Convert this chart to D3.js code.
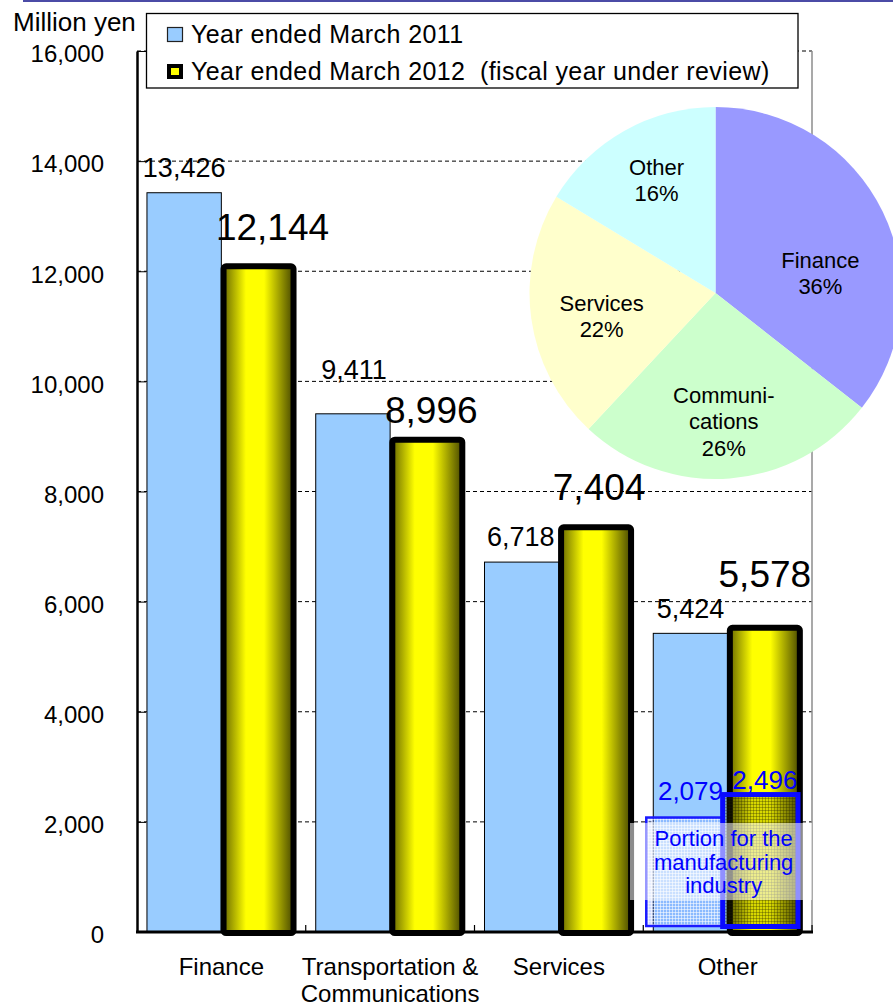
<!DOCTYPE html>
<html><head><meta charset="utf-8">
<script src="https://cdn.jsdelivr.net/npm/d3@7"></script>
<style>
html,body{margin:0;padding:0;background:#fff;}
svg{display:block;font-family:"Liberation Sans",Arial,Helvetica,sans-serif;}
</style></head><body>
<svg id="chart" width="893" height="1006"></svg>
<script>
// ---- data ----
const categories = [["Finance"], ["Transportation &", "Communications"], ["Services"], ["Other"]];
const seriesNames = ["Year ended March 2011", "Year ended March 2012  (fiscal year under review)"];
const values2011 = [13426, 9411, 6718, 5424];
const values2012 = [12144, 8996, 7404, 5578];
const manufacturing = [2079, 2496];          // part of "Other": 2011, 2012
const manufacturingNote = ["Portion for the", "manufacturing", "industry"];
const yTickValues = [0, 2000, 4000, 6000, 8000, 10000, 12000, 14000, 16000];
const pieNames = [["Finance"], ["Communi-", "cations"], ["Services"], ["Other"]];
const yAxisTitle = "Million yen";

// ---- layout ----
const W = 893, H = 1006;
const plot = { left: 137, right: 812, top: 51, bottom: 932 };
const blueFill = "#99ccff";
const pieColors = ["#9999ff", "#ccffcc", "#ffffcc", "#ccffff"];
const label2011Shift = [[0, 0], [1, -19], [-1, 0], [0, 1]];
const label2012Shift = [[14, 0], [4, 9], [3, -1], [0, -15]];
const pieLabelShift = [[-3, 33], [-1, 9], [5, 7], [0, -8]];

const svg = d3.select("#chart");
const defs = svg.append("defs");

const grad = defs.append("linearGradient").attr("id", "goldBar")
  .attr("x1", "0").attr("x2", "1").attr("y1", "0").attr("y2", "0");
[[0, "#6a6a00"], [0.32, "#ffff00"], [0.58, "#ffff00"], [1, "#474700"]].forEach(([o, c]) =>
  grad.append("stop").attr("offset", o).attr("stop-color", c));

const meshLight = defs.append("pattern").attr("id", "meshLight")
  .attr("width", 3).attr("height", 3).attr("patternUnits", "userSpaceOnUse");
meshLight.append("rect").attr("width", 3).attr("height", 3).attr("fill", "#6f96ff").attr("opacity", 0.35);
meshLight.append("rect").attr("width", 3).attr("height", 1).attr("fill", "#fff").attr("opacity", 0.55);
meshLight.append("rect").attr("width", 1).attr("height", 3).attr("fill", "#fff").attr("opacity", 0.55);

const meshDark = defs.append("pattern").attr("id", "meshDark")
  .attr("width", 3).attr("height", 3).attr("patternUnits", "userSpaceOnUse");
meshDark.append("rect").attr("width", 3).attr("height", 3).attr("fill", "#3a3a00").attr("opacity", 0.2);
meshDark.append("rect").attr("width", 3).attr("height", 1).attr("fill", "#222200").attr("opacity", 0.3);
meshDark.append("rect").attr("width", 1).attr("height", 3).attr("fill", "#222200").attr("opacity", 0.3);

// top rule
svg.append("line").attr("x1", 23).attr("x2", W).attr("y1", 1).attr("y2", 1)
  .attr("stroke", "#4b4ba6").attr("stroke-width", 2);

// ---- scales ----
const y = d3.scaleLinear().domain([0, 16000]).range([plot.bottom, plot.top]);
const x0 = d3.scaleBand().domain(d3.range(categories.length))
  .range([plot.left, plot.right]).paddingInner(0.1185).paddingOuter(0.059);
const x1 = d3.scaleBand().domain([0, 1]).range([0, x0.bandwidth()]);
const bw = x1.bandwidth();

// gridlines
svg.append("g").selectAll("line").data(yTickValues.filter(d => d > 0)).join("line")
  .attr("x1", plot.left).attr("x2", plot.right)
  .attr("y1", d => y(d)).attr("y2", d => y(d))
  .attr("stroke", "#000").attr("stroke-width", 1).attr("stroke-dasharray", "4,3");

// right frame edge
svg.append("line").attr("x1", plot.right).attr("x2", plot.right)
  .attr("y1", plot.top).attr("y2", plot.bottom)
  .attr("stroke", "#8c8c8c").attr("stroke-width", 1.5);

// 2011 bars
svg.append("g").selectAll("rect").data(values2011).join("rect")
  .attr("x", (d, i) => x0(i) + x1(0)).attr("width", bw)
  .attr("y", d => y(d)).attr("height", d => y(0) - y(d))
  .attr("fill", blueFill).attr("stroke", "#000").attr("stroke-width", 1);

svg.append("g").selectAll("text").data(values2011).join("text")
  .attr("x", (d, i) => x0(i) + x1(0) + bw / 2 + label2011Shift[i][0])
  .attr("y", (d, i) => y(d) - 16 + label2011Shift[i][1])
  .attr("text-anchor", "middle").attr("font-size", 27).attr("fill", "#000")
  .text(d => d3.format(",")(d));

const otherIdx = categories.length - 1;

// manufacturing portion, 2011
const mx0 = x0(otherIdx) + x1(0);
svg.append("rect").attr("x", mx0 - 7).attr("width", bw + 3)
  .attr("y", y(manufacturing[0])).attr("height", y(0) - 6 - y(manufacturing[0]))
  .attr("fill", "url(#meshLight)").attr("stroke", "#1a1aff").attr("stroke-width", 2.5);
svg.append("text").attr("x", mx0 + bw / 2).attr("y", y(manufacturing[0]) - 18)
  .attr("text-anchor", "middle").attr("font-size", 26).attr("fill", "#0000ff")
  .text(d3.format(",")(manufacturing[0]));

// 2012 bars
svg.append("g").selectAll("rect").data(values2012).join("rect")
  .attr("x", (d, i) => x0(i) + x1(1) + 2.2).attr("width", bw - 4.4)
  .attr("y", d => y(d) + 3).attr("height", d => y(0) - y(d) - 2)
  .attr("rx", 2.5)
  .attr("fill", "url(#goldBar)").attr("stroke", "#000").attr("stroke-width", 6);

// manufacturing portion, 2012
const mx1 = x0(otherIdx) + x1(1);
svg.append("rect").attr("x", mx1 - 5).attr("width", bw + 1)
  .attr("y", y(manufacturing[1])).attr("height", y(0) - 5.5 - y(manufacturing[1]))
  .attr("fill", "url(#meshDark)").attr("stroke", "#0a0aff").attr("stroke-width", 5);
svg.append("text").attr("x", mx1 + bw / 2).attr("y", y(manufacturing[1]) - 6)
  .attr("text-anchor", "middle").attr("font-size", 26).attr("fill", "#0000ff")
  .text(d3.format(",")(manufacturing[1]));

svg.append("g").selectAll("text").data(values2012).join("text")
  .attr("x", (d, i) => x0(i) + x1(1) + bw / 2 + label2012Shift[i][0])
  .attr("y", (d, i) => y(d) - 23 + label2012Shift[i][1])
  .attr("text-anchor", "middle").attr("font-size", 37).attr("fill", "#000")
  .text(d => d3.format(",")(d));

// note band for the manufacturing portion
svg.append("rect").attr("x", 630).attr("y", 823).attr("width", plot.right - 630).attr("height", 77)
  .attr("fill", "#fff").attr("opacity", 0.55);
svg.append("text").attr("text-anchor", "middle").attr("font-size", 22).attr("fill", "#0000ff")
  .selectAll("tspan").data(manufacturingNote).join("tspan")
  .attr("x", x0(otherIdx) + x0.bandwidth() / 2 - 4).attr("y", (d, i) => 846 + i * 23.5)
  .text(d => d);

// ---- axes ----
const yAxis = d3.axisLeft(y).tickValues(yTickValues).tickFormat(d3.format(","))
  .tickSize(-9).tickSizeOuter(0).tickPadding(33);
const gy = svg.append("g").attr("transform", `translate(${plot.left},0)`).call(yAxis);
gy.select(".domain").attr("stroke", "#000").attr("stroke-width", 2.5);
gy.selectAll(".tick line").attr("stroke", "#000").attr("stroke-width", 1);
gy.selectAll(".tick text").attr("font-size", 24).attr("fill", "#000")
  .attr("font-family", "Liberation Sans, Arial, sans-serif").attr("dy", "0.45em");

svg.append("text").attr("x", 13).attr("y", 31).attr("font-size", 26).attr("fill", "#000").text(yAxisTitle);

// baseline and category dividers
const boundaries = d3.range(1, categories.length + 1).map(i => x0(i - 1) + x0.bandwidth() + x0.step() * x0.paddingInner() / 2);
svg.append("g").selectAll("line").data(boundaries).join("line")
  .attr("x1", d => d).attr("x2", d => d).attr("y1", y(0) - 7).attr("y2", y(0))
  .attr("stroke", "#000").attr("stroke-width", 1.2);
svg.append("line").attr("x1", plot.left - 1).attr("x2", plot.right + 1)
  .attr("y1", y(0)).attr("y2", y(0)).attr("stroke", "#000").attr("stroke-width", 3);

const xLab = svg.append("g").attr("font-size", 24).attr("fill", "#000").attr("text-anchor", "middle");
categories.forEach((lines, i) => {
  const t = xLab.append("text");
  lines.forEach((ln, j) => t.append("tspan")
    .attr("x", x0(i) + x0.bandwidth() / 2).attr("y", 975 + j * 26.5).text(ln));
});

// ---- pie: composition for the fiscal year under review ----
const total = d3.sum(values2012);
const pieG = svg.append("g").attr("transform", "translate(715.5,293)");
const arcs = d3.pie().sort(null).value(d => d)(values2012);
const arc = d3.arc().innerRadius(0).outerRadius(186);
const labelArc = d3.arc().innerRadius(120).outerRadius(120);
pieG.selectAll("path").data(arcs).join("path")
  .attr("d", arc).attr("fill", (d, i) => pieColors[i]);
arcs.forEach((a, i) => {
  const [cx, cy] = labelArc.centroid(a);
  const lines = pieNames[i].concat([Math.round(a.value / total * 100) + "%"]);
  const lh = 26.5;
  const px = cx + pieLabelShift[i][0], py = cy + pieLabelShift[i][1];
  const t = pieG.append("text").attr("text-anchor", "middle").attr("font-size", 22).attr("fill", "#000");
  lines.forEach((ln, j) => t.append("tspan").attr("x", px)
    .attr("y", py - (lines.length - 1) * lh / 2 + j * lh + 7.7).text(ln));
});

// ---- legend ----
const lg = svg.append("g");
lg.append("rect").attr("x", 146.5).attr("y", 13.5).attr("width", 651.5).attr("height", 74.5)
  .attr("fill", "#fff").attr("stroke", "#000").attr("stroke-width", 1.3);
lg.append("rect").attr("x", 167.5).attr("y", 27.5).attr("width", 15).attr("height", 14)
  .attr("fill", blueFill).attr("stroke", "#222").attr("stroke-width", 1.2);
lg.append("rect").attr("x", 167).attr("y", 64).attr("width", 16).attr("height", 15)
  .attr("fill", "#000");
lg.append("rect").attr("x", 171).attr("y", 68).attr("width", 8).attr("height", 7)
  .attr("fill", "#ffff00");
seriesNames.forEach((s, i) => lg.append("text")
  .attr("x", 191).attr("y", 43 + i * 37).attr("font-size", 25).attr("fill", "#000")
  .attr("letter-spacing", 0.4).style("white-space", "pre").text(s));
</script>
</body></html>
